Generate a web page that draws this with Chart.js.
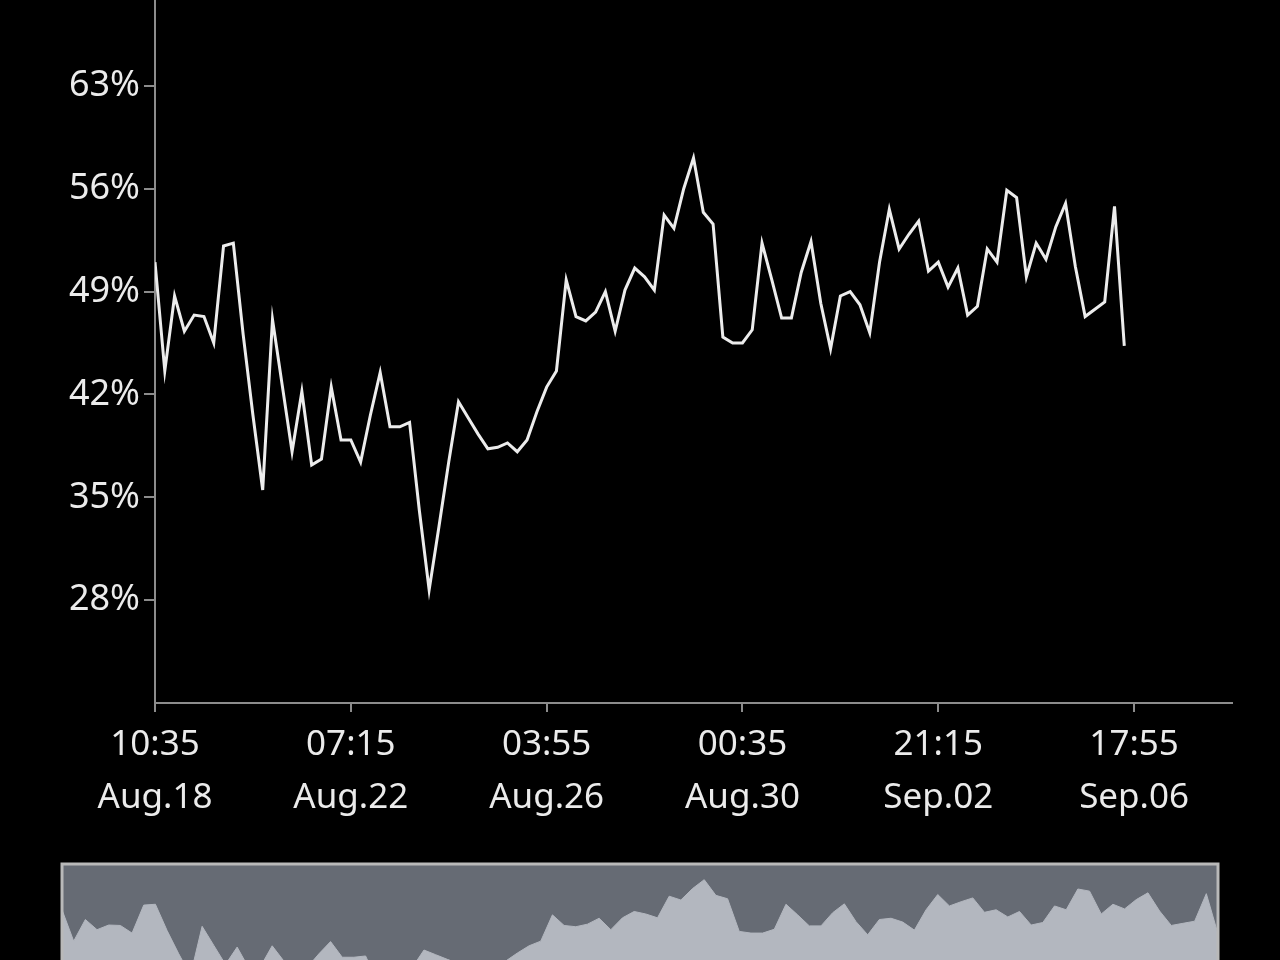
<!DOCTYPE html>
<html>
<head>
<meta charset="utf-8">
<script src="https://cdn.jsdelivr.net/npm/chart.js@4.4.1/dist/chart.umd.min.js"></script>
<style>
    html, body { margin: 0; padding: 0; background: #000; width: 1280px; height: 960px; overflow: hidden; }
    #grafico { position: absolute; left: 0; top: -60px; }
    #miniatura { position: absolute; left: 0; top: 856px; }
</style>
</head>
<body>
<canvas id="grafico" width="1280" height="880"></canvas>
<canvas id="miniatura" width="1280" height="200"></canvas>
<script>
// Serie (porcentaje por muestra)
const valores = [
    51.0, 43.6, 48.7, 46.3, 47.4, 47.3, 45.5, 52.1, 52.3, 46.1,
    40.6, 35.5, 47.1, 42.6, 38.1, 42.2, 37.2, 37.6, 42.5, 38.9,
    38.9, 37.4, 40.6, 43.5, 39.8, 39.8, 40.1, 34.1, 28.7, 33.0,
    37.4, 41.5, 40.4, 39.3, 38.3, 38.4, 38.7, 38.1, 38.9, 40.8,
    42.5, 43.6, 49.8, 47.3, 47.0, 47.6, 49.0, 46.3, 49.1, 50.6,
    50.0, 49.1, 54.2, 53.3, 56.0, 58.1, 54.4, 53.6, 45.9, 45.5,
    45.5, 46.4, 52.3, 49.8, 47.2, 47.2, 50.3, 52.4, 48.2, 45.1,
    48.7, 49.0, 48.1, 46.2, 51.0, 54.6, 51.9, 52.9, 53.8, 50.4,
    51.0, 49.3, 50.6, 47.4, 48.0, 51.9, 51.0, 55.9, 55.4, 50.0,
    52.3, 51.2, 53.4, 55.0, 50.7, 47.3, 47.8, 48.3, 54.8, 45.3
];

// Marcas del eje X (índice de muestra) y sus etiquetas
const posicionesX = [0, 20, 40, 60, 80, 100];
const horas = ['10:35', '07:15', '03:55', '00:35', '21:15', '17:55'];
const fechas = ['Aug.18', 'Aug.22', 'Aug.26', 'Aug.30', 'Sep.02', 'Sep.06'];

// Marcas del eje Y
const marcasY = [28, 35, 42, 49, 56, 63, 70];

const puntos = valores.map((v, i) => ({ x: i, y: v }));

const fuente = { family: '"Noto Sans", sans-serif', size: 35 };
const colorTexto = '#ebebeb';
const colorEje = '#8c8c8c';

new Chart(document.getElementById('grafico').getContext('2d'), {
    type: 'line',
    data: {
        datasets: [{
            data: puntos,
            borderColor: '#ececec',
            borderWidth: 3,
            pointRadius: 0,
            tension: 0,
            fill: false
        }]
    },
    options: {
        responsive: false,
        animation: false,
        layout: { padding: { top: 43, right: 48, left: 0, bottom: 0 } },
        plugins: { legend: { display: false }, tooltip: { enabled: false } },
        scales: {
            x: {
                type: 'linear',
                min: 0,
                max: 110,
                afterBuildTicks: (scale) => {
                    scale.ticks = posicionesX.map(v => ({ value: v }));
                },
                afterFit: (scale) => { scale.height = 117; },
                grid: { drawOnChartArea: false, drawTicks: true, tickLength: 9, color: colorEje, lineWidth: 2 },
                border: { display: true, color: colorEje, width: 2 },
                ticks: {
                    color: colorTexto,
                    font: { ...fuente, lineHeight: 1.52 },
                    padding: 6,
                    maxRotation: 0,
                    autoSkip: false,
                    callback: (valor) => {
                        const k = posicionesX.indexOf(valor);
                        return k >= 0 ? [horas[k], fechas[k]] : '';
                    }
                }
            },
            y: {
                min: 21,
                max: 70,
                afterBuildTicks: (scale) => {
                    scale.ticks = marcasY.map(v => ({ value: v }));
                },
                afterFit: (scale) => { scale.width = 155; },
                grid: { drawOnChartArea: false, drawTicks: true, tickLength: 11, color: colorEje, lineWidth: 2 },
                border: { display: true, color: colorEje, width: 2 },
                ticks: {
                    color: colorTexto,
                    font: { ...fuente, size: 36 },
                    padding: 4,
                    callback: (valor) => valor + '%'
                }
            }
        }
    }
});

// Miniatura inferior (navegador)
const fondoNavegador = {
    id: 'fondoNavegador',
    beforeDraw(chart) {
        const { ctx, chartArea: a } = chart;
        ctx.save();
        ctx.fillStyle = '#666b74';
        ctx.fillRect(a.left, a.top, a.right - a.left, a.bottom - a.top);
        ctx.restore();
    },
    afterDraw(chart) {
        const { ctx, chartArea: a } = chart;
        ctx.save();
        ctx.strokeStyle = '#b9b9b9';
        ctx.lineWidth = 3;
        ctx.strokeRect(a.left, a.top, a.right - a.left, a.bottom - a.top + 10);
        ctx.restore();
    }
};

new Chart(document.getElementById('miniatura').getContext('2d'), {
    type: 'line',
    data: {
        datasets: [{
            data: puntos,
            borderColor: '#b3b7bf',
            backgroundColor: '#b3b7bf',
            borderWidth: 1,
            pointRadius: 0,
            tension: 0,
            fill: 'start'
        }]
    },
    options: {
        responsive: false,
        animation: false,
        layout: { padding: { top: 8, right: 62, left: 62, bottom: 0 } },
        plugins: { legend: { display: false }, tooltip: { enabled: false } },
        scales: {
            x: { type: 'linear', min: 0, max: 99, display: false },
            y: { min: 16.5, max: 61.8, display: false }
        }
    },
    plugins: [fondoNavegador]
});
</script>
</body>
</html>
